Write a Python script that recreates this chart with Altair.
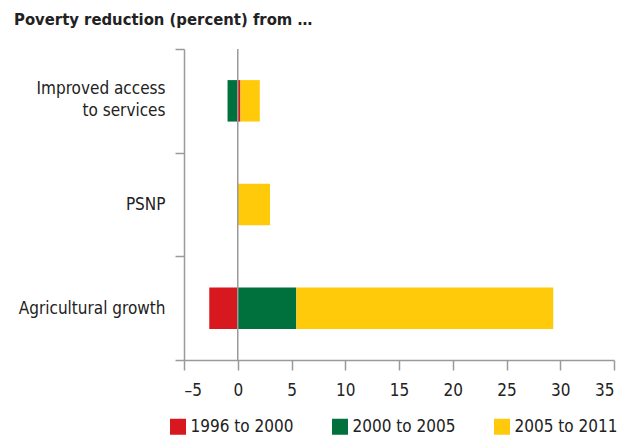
import altair as alt
import pandas as pd

categories = ["Improved access to services", "PSNP", "Agricultural growth"]
periods = ["1996 to 2000", "2000 to 2005", "2005 to 2011"]
v_1996_2000 = [0.25, 0.0, -2.65]
v_2000_2005 = [-0.95, 0.0, 5.45]
v_2005_2011 = [1.8, 3.0, 23.9]
colors = ["#D7191F", "#00703C", "#FFCA0A"]
x_ticks = [-5, 0, 5, 10, 15, 20, 25, 30, 35]

rows = []
for series_idx, (period, vals) in enumerate(zip(periods, [v_1996_2000, v_2000_2005, v_2005_2011])):
    for cat, v in zip(categories, vals):
        rows.append({"category": cat, "period": period, "value": v, "order": series_idx})
df = pd.DataFrame(rows)

FONT = "DejaVu Sans Condensed, Roboto, sans-serif"
GRAY = "#9a9a9a"
TEXT = "#222222"
FS = 17

label_expr = ("datum.value == 'Improved access to services' ? "
              "['Improved access', 'to services'] : datum.value")

bars = alt.Chart(df).mark_bar(height={"band": 0.4}).encode(
    x=alt.X("value:Q", stack="zero",
            scale=alt.Scale(domain=[-5, 35], nice=False, zero=False),
            axis=alt.Axis(values=x_ticks, title=None, grid=False,
                          labelExpr="replace(datum.label, '−', '–')",
                          tickSize=10, labelPadding=12, labelFontSize=FS,
                          labelFont=FONT, labelColor=TEXT,
                          domainColor=GRAY, tickColor=GRAY,
                          domainWidth=1.5, tickWidth=1.5)),
    y=alt.Y("category:N", sort=categories,
            scale=alt.Scale(paddingInner=0, paddingOuter=0),
            axis=alt.Axis(title=None, tickBand="extent", tickSize=9,
                          labelExpr=label_expr, labelLineHeight=22,
                          labelOffset={"condition": {"test": "datum.value == 'Improved access to services'",
                                                     "value": -12},
                                       "value": 0},
                          labelPadding=10, labelFontSize=FS, labelFont=FONT,
                          labelColor=TEXT, domainColor=GRAY, tickColor=GRAY,
                          domainWidth=1.5, tickWidth=1.5)),
    color=alt.Color("period:N", sort=periods,
                    scale=alt.Scale(domain=periods, range=colors),
                    legend=alt.Legend(title=None, orient="none", direction="horizontal",
                                      legendX=-14.5, legendY=369,
                                      symbolType="square", symbolSize=256,
                                      symbolStrokeWidth=0, symbolOpacity=1,
                                      labelFontSize=FS, labelFont=FONT,
                                      labelColor=TEXT, labelOffset=4,
                                      columnPadding=38, padding=0)),
    order=alt.Order("order:Q"),
)

zero_df = pd.DataFrame({"x": [0]})
zero_rule = alt.Chart(zero_df).mark_rule(color=GRAY, strokeWidth=1.5).encode(
    x=alt.X("x:Q"),
)

chart = alt.layer(bars, zero_rule).properties(
    width=430,
    height=311,
    autosize=alt.AutoSizeParams(type="none"),
    padding={"left": 176, "top": 41, "right": 4, "bottom": 75},
    title=alt.TitleParams("Poverty reduction (percent) from …", anchor="start",
                          frame="group", dx=-170, offset=12,
                          font=FONT, fontSize=16.5, fontWeight="bold", color=TEXT),
).configure_view(stroke=None)

chart.save("out.html", embed_options={"renderer": "svg", "actions": False})
